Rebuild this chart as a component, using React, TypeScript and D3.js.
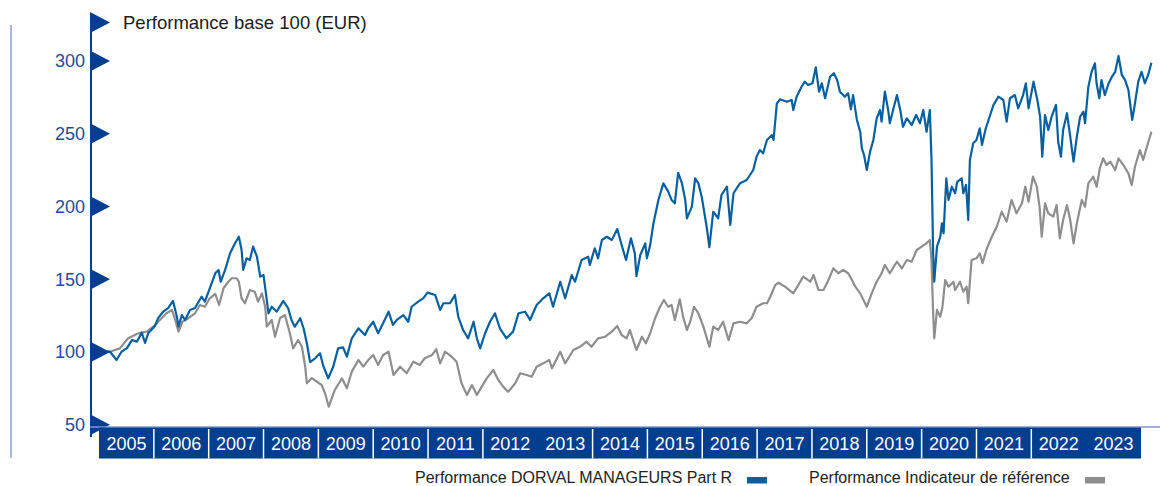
import React from "react";
import * as d3 from "d3";

const yTicks = [50, 100, 150, 200, 250, 300];
const years = d3.range(2005, 2024);
const noDivider = [2013, 2023];
const titleText = "Performance base 100 (EUR)";
const legendFund = "Performance DORVAL MANAGEURS Part R";
const legendBench = "Performance Indicateur de référence";

const fund: [number, number][] = [
  [2005.0, 100.0], [2005.2, 100.2], [2005.32, 94.5], [2005.41, 100.2], [2005.51, 102.7], [2005.6, 108.2],
  [2005.69, 107.1], [2005.78, 113.3], [2005.84, 106.2], [2005.9, 113.1], [2006.02, 117.9], [2006.08, 123.4],
  [2006.17, 127.7], [2006.26, 130.2], [2006.35, 135.1], [2006.42, 124.3], [2006.45, 117.4], [2006.51, 125.4],
  [2006.57, 122.0], [2006.66, 128.9], [2006.75, 130.2], [2006.87, 138.0], [2006.93, 134.6], [2007.02, 143.8],
  [2007.12, 154.1], [2007.18, 156.4], [2007.22, 148.3], [2007.3, 156.4], [2007.39, 167.8], [2007.48, 174.7],
  [2007.55, 179.2], [2007.6, 170.1], [2007.63, 156.4], [2007.69, 164.4], [2007.75, 163.2], [2007.81, 172.4],
  [2007.88, 165.5], [2007.94, 151.8], [2008.0, 152.9], [2008.06, 135.7], [2008.09, 126.6], [2008.15, 131.1],
  [2008.24, 127.7], [2008.36, 135.1], [2008.45, 130.0], [2008.51, 122.0], [2008.57, 117.4], [2008.67, 123.2],
  [2008.73, 116.3], [2008.79, 106.0], [2008.85, 93.1], [2008.94, 95.7], [2009.03, 99.1], [2009.09, 90.4],
  [2009.18, 81.9], [2009.27, 89.9], [2009.36, 102.5], [2009.45, 103.2], [2009.52, 96.8], [2009.61, 109.4],
  [2009.73, 116.3], [2009.85, 111.7], [2009.91, 116.3], [2010.0, 120.8], [2010.09, 112.9], [2010.18, 119.7],
  [2010.28, 127.7], [2010.36, 118.6], [2010.43, 122.0], [2010.55, 125.4], [2010.64, 120.8], [2010.7, 131.1],
  [2010.82, 134.6], [2010.91, 136.9], [2010.99, 140.8], [2011.13, 139.2], [2011.22, 128.9], [2011.28, 133.5],
  [2011.4, 133.5], [2011.49, 139.2], [2011.55, 124.3], [2011.64, 115.1], [2011.73, 109.4], [2011.83, 120.8],
  [2011.89, 109.4], [2011.95, 102.5], [2012.04, 112.9], [2012.13, 120.8], [2012.22, 126.6], [2012.31, 116.3],
  [2012.43, 109.4], [2012.55, 114.0], [2012.65, 126.6], [2012.77, 127.7], [2012.86, 122.0], [2012.98, 132.3],
  [2013.1, 136.9], [2013.21, 140.3], [2013.28, 131.1], [2013.41, 148.3], [2013.5, 136.9], [2013.62, 152.9],
  [2013.68, 148.3], [2013.8, 163.2], [2013.92, 165.5], [2013.95, 159.8], [2014.04, 171.3], [2014.1, 164.4],
  [2014.17, 177.0], [2014.26, 179.2], [2014.35, 177.0], [2014.45, 184.5], [2014.53, 173.5], [2014.61, 163.2],
  [2014.7, 178.1], [2014.77, 167.8], [2014.8, 152.2], [2014.87, 166.7], [2014.96, 174.7], [2014.99, 164.4],
  [2015.05, 173.5], [2015.11, 188.5], [2015.2, 204.5], [2015.29, 215.9], [2015.38, 210.2], [2015.44, 204.5],
  [2015.5, 202.2], [2015.56, 223.2], [2015.63, 215.9], [2015.69, 204.5], [2015.72, 191.9], [2015.81, 199.9],
  [2015.87, 219.4], [2015.93, 215.9], [2015.99, 206.7], [2016.08, 186.1], [2016.13, 172.0], [2016.2, 196.4],
  [2016.29, 191.9], [2016.35, 207.9], [2016.45, 213.6], [2016.51, 187.3], [2016.57, 209.1], [2016.69, 216.0],
  [2016.81, 218.2], [2016.93, 225.1], [2016.99, 234.2], [2017.05, 238.8], [2017.11, 236.6], [2017.18, 245.7],
  [2017.27, 249.1], [2017.3, 245.7], [2017.36, 270.9], [2017.42, 273.7], [2017.54, 272.0], [2017.63, 273.2],
  [2017.66, 266.3], [2017.72, 275.5], [2017.81, 282.3], [2017.87, 285.8], [2017.93, 283.5], [2018.01, 284.7],
  [2018.07, 295.7], [2018.13, 278.9], [2018.18, 284.7], [2018.24, 274.4], [2018.33, 289.2], [2018.4, 291.6],
  [2018.46, 286.9], [2018.51, 278.9], [2018.6, 275.5], [2018.66, 277.8], [2018.71, 266.8], [2018.75, 276.6],
  [2018.82, 259.5], [2018.88, 251.4], [2018.91, 240.0], [2018.95, 235.4], [2019.0, 225.1], [2019.06, 237.7],
  [2019.12, 245.7], [2019.18, 260.6], [2019.24, 266.3], [2019.27, 258.3], [2019.33, 278.9], [2019.39, 266.3],
  [2019.42, 257.2], [2019.48, 266.3], [2019.55, 276.6], [2019.61, 266.3], [2019.66, 254.8], [2019.73, 260.6],
  [2019.82, 256.0], [2019.9, 262.9], [2019.97, 257.2], [2020.03, 266.3], [2020.09, 251.4], [2020.15, 266.3],
  [2020.18, 232.0], [2020.21, 167.8], [2020.23, 148.3], [2020.28, 172.4], [2020.34, 179.2], [2020.37, 188.5],
  [2020.4, 181.6], [2020.45, 219.4], [2020.49, 204.5], [2020.55, 213.6], [2020.61, 209.1], [2020.65, 217.0],
  [2020.73, 219.4], [2020.76, 209.1], [2020.81, 214.8], [2020.85, 190.7], [2020.88, 232.0], [2020.94, 243.4],
  [2021.0, 245.7], [2021.06, 253.7], [2021.1, 242.3], [2021.17, 253.7], [2021.25, 262.9], [2021.31, 269.8],
  [2021.4, 275.5], [2021.49, 273.2], [2021.55, 258.3], [2021.61, 274.4], [2021.7, 276.6], [2021.76, 267.5],
  [2021.85, 276.6], [2021.9, 284.7], [2021.95, 267.5], [2022.04, 285.8], [2022.11, 273.2], [2022.16, 261.7],
  [2022.2, 234.2], [2022.25, 262.9], [2022.31, 252.6], [2022.37, 261.7], [2022.45, 269.8], [2022.49, 244.5],
  [2022.54, 234.2], [2022.58, 252.6], [2022.65, 264.1], [2022.71, 248.0], [2022.77, 230.8], [2022.83, 248.0],
  [2022.89, 261.7], [2022.95, 265.2], [2022.98, 257.2], [2023.04, 282.3], [2023.1, 292.6], [2023.16, 298.4],
  [2023.19, 284.7], [2023.24, 274.4], [2023.28, 286.9], [2023.34, 276.6], [2023.41, 284.7], [2023.47, 289.2],
  [2023.53, 292.6], [2023.59, 303.4], [2023.65, 290.4], [2023.71, 286.9], [2023.77, 280.1], [2023.84, 259.5],
  [2023.89, 270.9], [2023.95, 285.8], [2024.01, 292.6], [2024.07, 284.7], [2024.13, 290.4], [2024.19, 298.8],
];

const benchmark: [number, number][] = [
  [2005.0, 100.0], [2005.2, 100.2], [2005.38, 102.5], [2005.53, 109.4], [2005.72, 112.9], [2005.87, 114.0],
  [2005.99, 117.4], [2006.11, 122.0], [2006.23, 126.6], [2006.33, 128.9], [2006.39, 122.0], [2006.45, 114.0],
  [2006.52, 120.8], [2006.63, 123.2], [2006.75, 126.6], [2006.84, 132.3], [2006.93, 131.1], [2007.02, 136.9],
  [2007.12, 139.9], [2007.19, 132.3], [2007.27, 143.8], [2007.36, 148.3], [2007.42, 150.7], [2007.51, 150.7],
  [2007.55, 148.3], [2007.6, 136.9], [2007.66, 133.5], [2007.75, 142.6], [2007.84, 141.4], [2007.9, 134.6],
  [2007.97, 140.3], [2008.03, 131.1], [2008.06, 117.4], [2008.15, 122.0], [2008.21, 110.5], [2008.3, 123.2],
  [2008.39, 125.4], [2008.48, 112.9], [2008.54, 102.5], [2008.63, 108.2], [2008.7, 103.6], [2008.76, 89.9],
  [2008.79, 78.5], [2008.88, 82.1], [2008.97, 79.6], [2009.06, 77.3], [2009.12, 71.8], [2009.19, 62.4],
  [2009.3, 73.9], [2009.43, 81.9], [2009.52, 75.1], [2009.61, 86.5], [2009.73, 94.5], [2009.82, 89.9],
  [2009.91, 94.5], [2010.0, 97.9], [2010.09, 91.1], [2010.18, 97.9], [2010.28, 100.2], [2010.37, 84.2],
  [2010.49, 89.9], [2010.61, 85.4], [2010.73, 93.3], [2010.85, 91.1], [2010.94, 95.7], [2011.07, 97.9],
  [2011.15, 101.9], [2011.22, 92.2], [2011.31, 100.2], [2011.43, 96.8], [2011.52, 93.3], [2011.61, 78.5],
  [2011.71, 70.4], [2011.8, 77.3], [2011.89, 70.4], [2011.98, 76.2], [2012.07, 81.9], [2012.19, 87.6],
  [2012.28, 80.8], [2012.37, 76.2], [2012.46, 72.7], [2012.59, 78.5], [2012.68, 85.4], [2012.8, 84.2],
  [2012.89, 83.0], [2012.98, 89.9], [2013.1, 92.2], [2013.21, 94.5], [2013.26, 88.8], [2013.41, 100.2],
  [2013.5, 92.2], [2013.65, 101.4], [2013.77, 103.6], [2013.89, 107.1], [2013.98, 103.6], [2014.1, 109.4],
  [2014.23, 110.5], [2014.35, 114.0], [2014.45, 117.9], [2014.53, 111.7], [2014.62, 109.4], [2014.68, 115.1],
  [2014.74, 108.2], [2014.8, 101.4], [2014.9, 110.5], [2014.97, 106.0], [2015.05, 112.9], [2015.14, 123.2],
  [2015.23, 131.1], [2015.3, 135.7], [2015.38, 131.1], [2015.44, 132.3], [2015.5, 122.0], [2015.59, 136.2],
  [2015.65, 124.3], [2015.72, 115.1], [2015.78, 120.8], [2015.85, 131.1], [2015.93, 126.6], [2016.02, 117.4],
  [2016.13, 103.6], [2016.2, 117.4], [2016.29, 115.1], [2016.38, 120.8], [2016.48, 108.2], [2016.57, 119.7],
  [2016.69, 120.8], [2016.81, 119.7], [2016.9, 123.2], [2016.99, 131.1], [2017.11, 133.5], [2017.18, 133.5],
  [2017.24, 138.0], [2017.33, 146.0], [2017.39, 147.6], [2017.51, 144.9], [2017.66, 140.3], [2017.75, 146.0],
  [2017.84, 151.8], [2017.97, 148.3], [2018.03, 152.9], [2018.12, 142.6], [2018.21, 142.6], [2018.3, 149.5],
  [2018.39, 157.5], [2018.48, 154.1], [2018.57, 156.4], [2018.66, 154.1], [2018.73, 149.5], [2018.79, 144.9],
  [2018.88, 140.3], [2019.0, 131.1], [2019.09, 140.3], [2019.18, 148.3], [2019.27, 154.1], [2019.33, 159.8],
  [2019.42, 154.1], [2019.55, 162.1], [2019.64, 157.5], [2019.73, 163.2], [2019.82, 162.1], [2019.91, 170.1],
  [2020.0, 172.4], [2020.09, 174.7], [2020.15, 177.0], [2020.18, 163.2], [2020.21, 126.6], [2020.23, 109.4],
  [2020.28, 128.9], [2020.34, 124.3], [2020.38, 131.1], [2020.43, 149.5], [2020.49, 144.9], [2020.58, 148.3],
  [2020.61, 142.6], [2020.7, 148.3], [2020.76, 141.4], [2020.82, 144.9], [2020.85, 133.5], [2020.91, 163.2],
  [2021.0, 164.4], [2021.06, 167.8], [2021.11, 161.0], [2021.19, 171.3], [2021.28, 179.2], [2021.37, 186.1],
  [2021.46, 196.4], [2021.55, 189.6], [2021.64, 204.5], [2021.73, 195.3], [2021.83, 202.2], [2021.89, 213.6],
  [2021.95, 203.3], [2022.03, 220.5], [2022.1, 213.6], [2022.15, 199.9], [2022.19, 179.2], [2022.25, 202.2],
  [2022.31, 195.3], [2022.4, 193.0], [2022.46, 201.0], [2022.52, 178.1], [2022.58, 190.7], [2022.65, 201.0],
  [2022.71, 190.7], [2022.77, 174.7], [2022.83, 188.5], [2022.92, 204.5], [2022.98, 199.9], [2023.04, 215.9],
  [2023.13, 220.5], [2023.19, 213.6], [2023.25, 226.3], [2023.31, 233.1], [2023.37, 228.5], [2023.44, 230.8],
  [2023.53, 225.1], [2023.59, 233.1], [2023.68, 228.5], [2023.77, 222.8], [2023.83, 214.8], [2023.89, 227.4],
  [2023.98, 238.8], [2024.04, 232.0], [2024.1, 240.0], [2024.19, 251.4],
];

const NAVY = "#003e8f";
const FUND = "#0660a0";
const BENCH = "#8e8e8e";
const FONT = "Arial, 'Liberation Sans', sans-serif";

export default function App() {
  const W = 1160;
  const H = 486;
  const axisX = 90;
  const bandTop = 427;
  const bandBottom = 458;
  const x = d3.scaleLinear().domain([2005, 2024]).range([99, 1141]);
  const y = d3.scaleLinear().domain([100, 300]).range([352, 61]);
  const line = d3
    .line<[number, number]>()
    .x((d) => x(d[0]))
    .y((d) => y(d[1]));

  const flag = (cy: number) =>
    `M${axisX},${cy - 10.5}L${axisX + 20},${cy}L${axisX},${cy + 10.5}Z`;

  return (
    <>
      <style>{`body{margin:0}`}</style>
      <svg
        width={W}
        height={H}
        style={{ position: "absolute", left: 0, top: 0, display: "block" }}
        fontFamily={FONT}
      >
        <rect width={W} height={H} fill="#fff" />
        {/* left decorative rule */}
        <line x1={11} x2={11} y1={25} y2={458} stroke="#a9b5de" strokeWidth={2} />

        {/* series */}
        <path d={line(benchmark) ?? ""} fill="none" stroke={BENCH} strokeWidth={2.2} strokeLinejoin="round" />
        <path d={line(fund) ?? ""} fill="none" stroke={FUND} strokeWidth={2.2} strokeLinejoin="round" />

        {/* y axis */}
        <line x1={axisX + 1} x2={axisX + 1} y1={30} y2={437} stroke={NAVY} strokeWidth={2} />
        <path d={flag(22.5)} fill={NAVY} />
        <text x={123} y={29} fontSize={18.5} fill="#1b1b24">
          {titleText}
        </text>
        {yTicks.map((t) => (
          <g key={t}>
            <path d={flag(y(t))} fill={NAVY} />
            <text x={85} y={y(t)} dy="0.36em" textAnchor="end" fontSize={18} fill="#1f4c9a">
              {t}
            </text>
          </g>
        ))}

        {/* x band */}
        <line x1={axisX} x2={W} y1={bandTop} y2={bandTop} stroke="#7f97cc" strokeWidth={1.5} />
        <rect x={x(2005)} y={bandTop + 0.5} width={x(2024) - x(2005)} height={bandBottom - bandTop} fill={NAVY} />
        {years.map((yr) => (
          <g key={yr}>
            {yr > 2005 && !noDivider.includes(yr) && (
              <line x1={x(yr)} x2={x(yr)} y1={bandTop + 2} y2={bandBottom + 0.5} stroke="#fff" strokeWidth={1.5} />
            )}
            <text x={x(yr + 0.5)} y={(bandTop + bandBottom) / 2 + 1} dy="0.36em" textAnchor="middle" fontSize={18} fill="#fff">
              {yr}
            </text>
          </g>
        ))}

        {/* legend */}
        <text x={415} y={483} fontSize={16} fill="#222">
          {legendFund}
        </text>
        <rect x={747} y={477} width={20} height={6.5} fill={FUND} />
        <text x={809} y={483} fontSize={16} fill="#222">
          {legendBench}
        </text>
        <rect x={1085} y={477} width={20} height={6.5} fill={BENCH} />
      </svg>
    </>
  );
}
